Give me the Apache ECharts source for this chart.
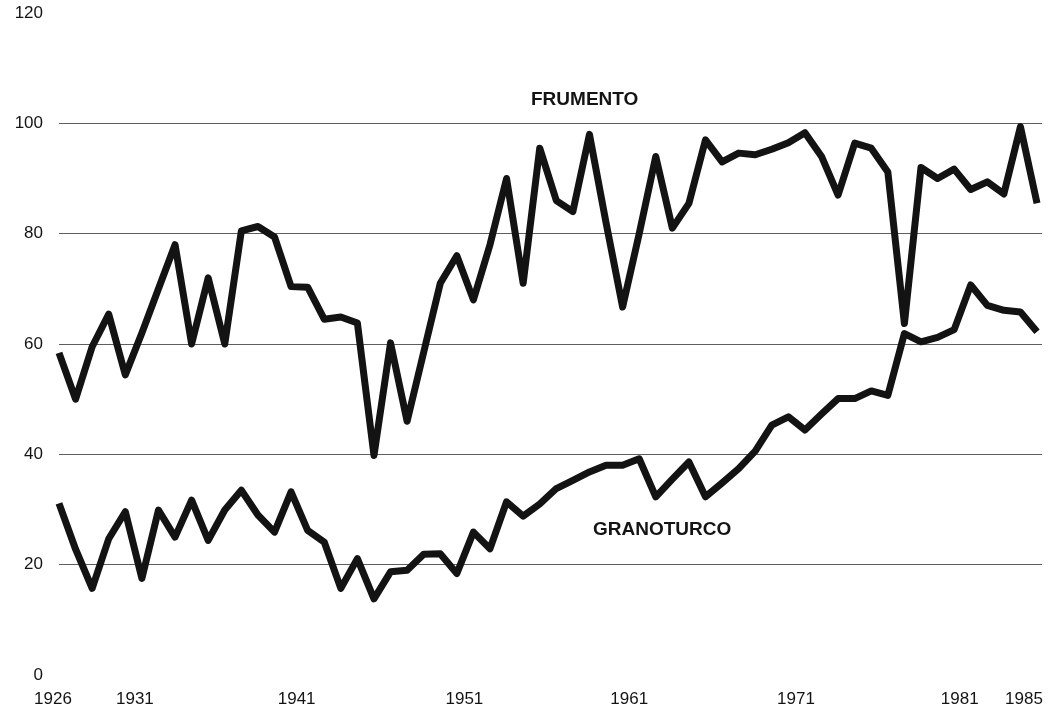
<!DOCTYPE html>
<html>
<head>
<meta charset="utf-8">
<style>
  html, body { margin: 0; padding: 0; background: #fff; }
  #chart { width: 1049px; height: 710px; }
</style>
<script src="https://cdn.jsdelivr.net/npm/echarts@6/dist/echarts.min.js"></script>
</head>
<body>
<div id="chart"></div>
<script>
// Years of the series
const years = [
  1926, 1927, 1928, 1929, 1930, 1931, 1932, 1933, 1934, 1935,
  1936, 1937, 1938, 1939, 1940, 1941, 1942, 1943, 1944, 1945,
  1946, 1947, 1948, 1949, 1950, 1951, 1952, 1953, 1954, 1955,
  1956, 1957, 1958, 1959, 1960, 1961, 1962, 1963, 1964, 1965,
  1966, 1967, 1968, 1969, 1970, 1971, 1972, 1973, 1974, 1975,
  1976, 1977, 1978, 1979, 1980, 1981, 1982, 1983, 1984, 1985
];

// Wheat
const frumento = [
  58.4, 50.0, 59.5, 65.4, 54.4, 62.0, 70.0, 78.0, 60.0, 72.0,
  60.0, 80.5, 81.3, 79.4, 70.4, 70.3, 64.5, 64.9, 63.8, 39.8,
  60.2, 46.0, 58.5, 71.0, 76.0, 68.0, 78.0, 90.0, 71.0, 95.5,
  86.0, 84.0, 98.0, 82.0, 66.7, 80.0, 94.0, 81.0, 85.5, 97.0,
  93.0, 94.6, 94.3, 95.3, 96.5, 98.3, 94.0, 87.0, 96.4, 95.5,
  91.2, 63.7, 92.0, 90.0, 91.7, 88.0, 89.4, 87.2, 99.4, 85.5
];

// Maize
const granoturco = [
  31.1, 22.8, 15.7, 24.7, 29.6, 17.5, 29.9, 25.0, 31.7, 24.4,
  29.9, 33.5, 29.0, 25.9, 33.2, 26.2, 24.1, 15.7, 21.1, 13.8,
  18.7, 19.0, 21.9, 22.0, 18.4, 25.9, 22.9, 31.4, 28.8, 31.0,
  33.8, 35.3, 36.8, 38.0, 38.0, 39.2, 32.3, 35.5, 38.6, 32.3,
  34.8, 37.4, 40.6, 45.3, 46.8, 44.4, 47.3, 50.1, 50.1, 51.5,
  50.7, 61.9, 60.4, 61.2, 62.6, 70.7, 67.0, 66.1, 65.8, 62.2
];

// Labelled years on the horizontal axis
const yearTicks = [1926, 1931, 1941, 1951, 1961, 1971, 1981, 1985];

// Vertical axis ticks
const valueTicks = [0, 20, 40, 60, 80, 100, 120];

// Small leftward nudge of each year label (px)
const yearNudge = { 1926: 6, 1931: 7, 1941: 11, 1951: 9, 1961: 10, 1971: 9, 1981: 11, 1985: 13 };

const pairs = (vals) => years.map((y, i) => [y, vals[i]]);

const rich = {};
yearTicks.forEach(y => {
  rich['y' + y] = { padding: [0, 2 * yearNudge[y], 0, 0], fontSize: 17, color: '#141414', fontFamily: 'Liberation Sans' };
});

const chart = echarts.init(document.getElementById('chart'), null, { renderer: 'canvas' });

const lineStyle = { width: 7, color: '#131313', join: 'round', cap: 'butt' };

chart.setOption({
  animation: false,
  backgroundColor: '#ffffff',
  grid: { left: 59, right: 7, top: 13, bottom: 35, containLabel: false },
  xAxis: {
    type: 'value',
    min: 1926,
    max: 1985.3,
    axisLine: { show: false },
    axisTick: { show: false },
    splitLine: { show: false },
    axisLabel: {
      customValues: yearTicks,
      margin: 16,
      formatter: (v) => '{y' + v + '|' + v + '}',
      rich: rich
    }
  },
  yAxis: {
    type: 'value',
    min: 0,
    max: 120,
    interval: 20,
    axisLine: { show: false },
    axisTick: { show: false },
    axisLabel: {
      customValues: valueTicks,
      margin: 16,
      fontSize: 17,
      color: '#141414',
      fontFamily: 'Liberation Sans'
    },
    splitLine: {
      show: true,
      showMinLine: false,
      showMaxLine: false,
      lineStyle: { color: '#5e5e5e', width: 1.2, type: 'solid' }
    }
  },
  graphic: [
    {
      type: 'text',
      left: 585 - 54, top: 90,
      style: { text: 'FRUMENTO', font: 'bold 19px "Liberation Sans"', fill: '#141414' }
    },
    {
      type: 'text',
      left: 663 - 70, top: 520,
      style: { text: 'GRANOTURCO', font: 'bold 19px "Liberation Sans"', fill: '#141414' }
    }
  ],
  series: [
    {
      name: 'FRUMENTO',
      type: 'line',
      data: pairs(frumento),
      showSymbol: false,
      symbol: 'none',
      lineStyle: lineStyle,
      z: 3
    },
    {
      name: 'GRANOTURCO',
      type: 'line',
      data: pairs(granoturco),
      showSymbol: false,
      symbol: 'none',
      lineStyle: lineStyle,
      z: 3
    }
  ]
});
</script>
</body>
</html>
